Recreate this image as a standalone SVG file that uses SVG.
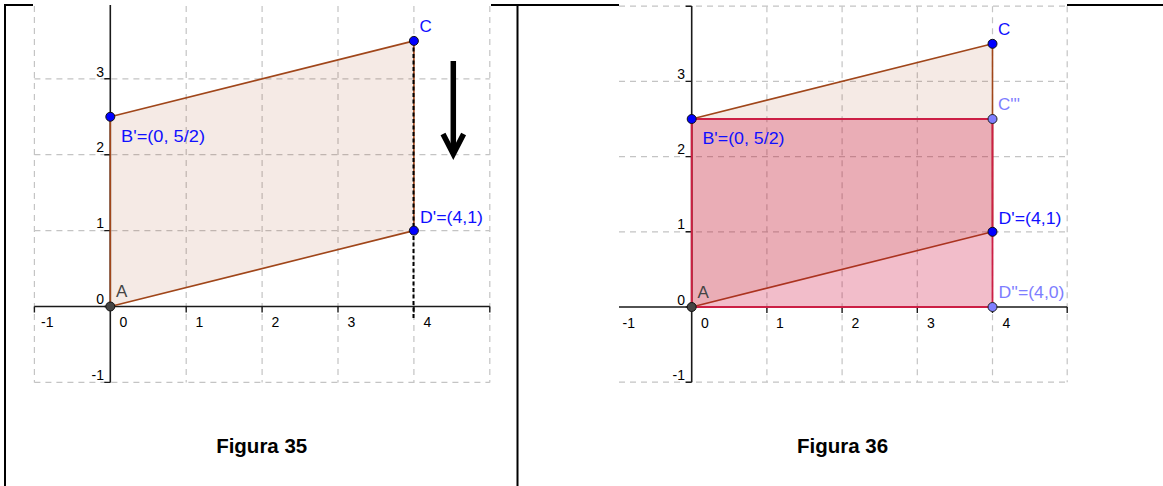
<svg xmlns="http://www.w3.org/2000/svg" width="1163" height="486" viewBox="0 0 1163 486">
<style>
.grid{stroke:#c4c4c4;stroke-width:1.2;stroke-dasharray:6,5;fill:none}
.axis{stroke:#1a1a1a;stroke-width:1.6;fill:none}
.tick{stroke:#1a1a1a;stroke-width:1.4}
.num{font-family:"Liberation Sans",Arial,sans-serif;font-size:14px;fill:#000}
.lbl{font-family:"Liberation Sans",Arial,sans-serif;font-size:17px}
.blue{fill:#1010ff}
.lite{fill:#7d7dff}
.gray{fill:#444}
.poly{fill:#993300;fill-opacity:0.1;stroke:#a0461a;stroke-width:1.6;stroke-linejoin:round}
.rect{fill:#cc0033;fill-opacity:0.26;stroke:#cc1f45;stroke-width:1.8}
.pt{fill:#0000ff;stroke:#111;stroke-width:1}
.ptl{fill:#7f7fff;stroke:#222;stroke-width:1}
.pta{fill:#444;stroke:#111;stroke-width:1}
.border{stroke:#000;stroke-width:2;fill:none}
.cap{font-family:"Liberation Sans",Arial,sans-serif;font-size:20.5px;font-weight:bold;fill:#000}
</style>
<rect width="1163" height="486" fill="#fff"/>
<g id="table">
<path class="border" d="M5,4 V486 M517.5,4 V486 M4,5 H33 M491,5 H619 M1067,5 H1163"/>
</g>
<g id="fig35">
<g class="gridlines">
<path class="grid" d="M34.4,6 V382.4 M186.2,6 V382.4 M262.1,6 V382.4 M338,6 V382.4 M413.9,6 V382.4 M489.8,6 V382.4"/>
<path class="grid" d="M34.4,78.8 H489.8 M34.4,154.7 H489.8 M34.4,230.6 H489.8 M34.4,382.4 H489.8"/>
</g>
<g class="axes">
<path class="axis" d="M34.4,306.5 H489.8 M110.3,5 V382.4"/>
<path class="tick" d="M34.4,306.5 v6 M186.2,306.5 v6 M262.1,306.5 v6 M338,306.5 v6 M413.9,306.5 v6 M489.8,306.5 v6 M110.3,78.8 h-6 M110.3,154.7 h-6 M110.3,230.6 h-6 M110.3,306.5 h-6 M110.3,382.4 h-6"/>
<text class="num" x="104" y="77" text-anchor="end">3</text>
<text class="num" x="104" y="152" text-anchor="end">2</text>
<text class="num" x="104" y="228" text-anchor="end">1</text>
<text class="num" x="104" y="304" text-anchor="end">0</text>
<text class="num" x="104" y="380" text-anchor="end">-1</text>
<text class="num" x="41" y="327">-1</text>
<text class="num" x="119.5" y="327">0</text>
<text class="num" x="195.5" y="327">1</text>
<text class="num" x="271.5" y="327">2</text>
<text class="num" x="347.5" y="327">3</text>
<text class="num" x="423.5" y="327">4</text>
</g>
<g id="poly35">
<polygon class="poly" points="110.3,306.5 413.9,230.6 413.9,40.9 110.3,116.75"/>
</g>
<g id="dash35">
<path d="M413.5,41 V318" stroke="#000" stroke-width="2" stroke-dasharray="4,2.5" fill="none"/>
</g>
<g id="arrow35">
<path d="M453.3,61 V152" stroke="#000" stroke-width="5.5" fill="none"/>
<polyline points="443,134 453.3,154 463.6,134" stroke="#000" stroke-width="5.5" stroke-linejoin="miter" fill="none"/>
</g>
<g id="A35"><circle class="pta" cx="110.3" cy="306.5" r="4.5"/><text class="lbl gray" x="116" y="297" font-size="15">A</text></g>
<g id="B35"><circle class="pt" cx="110.3" cy="116.75" r="4.5"/><text class="lbl blue" x="121" y="141.5" textLength="84" lengthAdjust="spacingAndGlyphs">B'=(0, 5/2)</text></g>
<g id="C35"><circle class="pt" cx="413.9" cy="40.9" r="4.5"/><text class="lbl blue" x="419.5" y="32">C</text></g>
<g id="D35"><circle class="pt" cx="413.9" cy="230.6" r="4.5"/><text class="lbl blue" x="420" y="222.5" textLength="63" lengthAdjust="spacingAndGlyphs">D'=(4,1)</text></g>
<text class="cap" x="261.7" y="453" text-anchor="middle">Figura 35</text>
</g>
<g id="fig36">
<g class="gridlines">
<path class="grid" d="M766.9,6.2 V382.2 M842.1,6.2 V382.2 M917.3,6.2 V382.2 M992.5,6.2 V382.2 M1067.2,6.2 V382.2"/>
<path class="grid" d="M619,6.2 H1067.2 M619,81.4 H1067.2 M619,156.6 H1067.2 M619,231.8 H1067.2 M619,382.2 H1067.2"/>
</g>
<g class="axes">
<path class="axis" d="M619,307 H1067.2 M691.7,6 V382.2"/>
<path class="tick" d="M766.9,307 v6 M842.1,307 v6 M917.3,307 v6 M992.5,307 v6 M1067.2,307 v6 M691.7,6.2 h-6 M691.7,81.4 h-6 M691.7,156.6 h-6 M691.7,231.8 h-6 M691.7,307 h-6 M691.7,382.2 h-6"/>
<text class="num" x="685" y="79" text-anchor="end">3</text>
<text class="num" x="685" y="154" text-anchor="end">2</text>
<text class="num" x="685" y="229" text-anchor="end">1</text>
<text class="num" x="685" y="304.5" text-anchor="end">0</text>
<text class="num" x="685" y="379.5" text-anchor="end">-1</text>
<text class="num" x="622.5" y="328">-1</text>
<text class="num" x="701" y="328">0</text>
<text class="num" x="776" y="328">1</text>
<text class="num" x="851.5" y="328">2</text>
<text class="num" x="927" y="328">3</text>
<text class="num" x="1002.5" y="328">4</text>
</g>
<g id="poly36">
<polygon class="poly" points="691.7,307 992.5,231.8 992.5,43.8 691.7,119"/>
</g>
<g id="rect36">
<polygon class="rect" points="691.7,307 992.5,307 992.5,119 691.7,119"/>
</g>
<g id="A36"><circle class="pta" cx="691.7" cy="307" r="4.5"/><text class="lbl gray" x="697.5" y="297.5" font-size="15">A</text></g>
<g id="B36"><circle class="pt" cx="691.7" cy="119" r="4.5"/><text class="lbl blue" x="702.5" y="143.5" textLength="82" lengthAdjust="spacingAndGlyphs">B'=(0, 5/2)</text></g>
<g id="C36"><circle class="pt" cx="992.5" cy="43.8" r="4.5"/><text class="lbl blue" x="998" y="35">C</text></g>
<g id="C3p36"><circle class="ptl" cx="992.5" cy="119" r="4.5"/><text class="lbl lite" x="998" y="110">C'''</text></g>
<g id="D36"><circle class="pt" cx="992.5" cy="231.8" r="4.5"/><text class="lbl blue" x="998.5" y="223.5" textLength="63" lengthAdjust="spacingAndGlyphs">D'=(4,1)</text></g>
<g id="D2p36"><circle class="ptl" cx="992.5" cy="307" r="4.5"/><text class="lbl lite" x="998.5" y="298" textLength="66" lengthAdjust="spacingAndGlyphs">D''=(4,0)</text></g>
<text class="cap" x="842.5" y="453" text-anchor="middle">Figura 36</text>
</g>
</svg>
